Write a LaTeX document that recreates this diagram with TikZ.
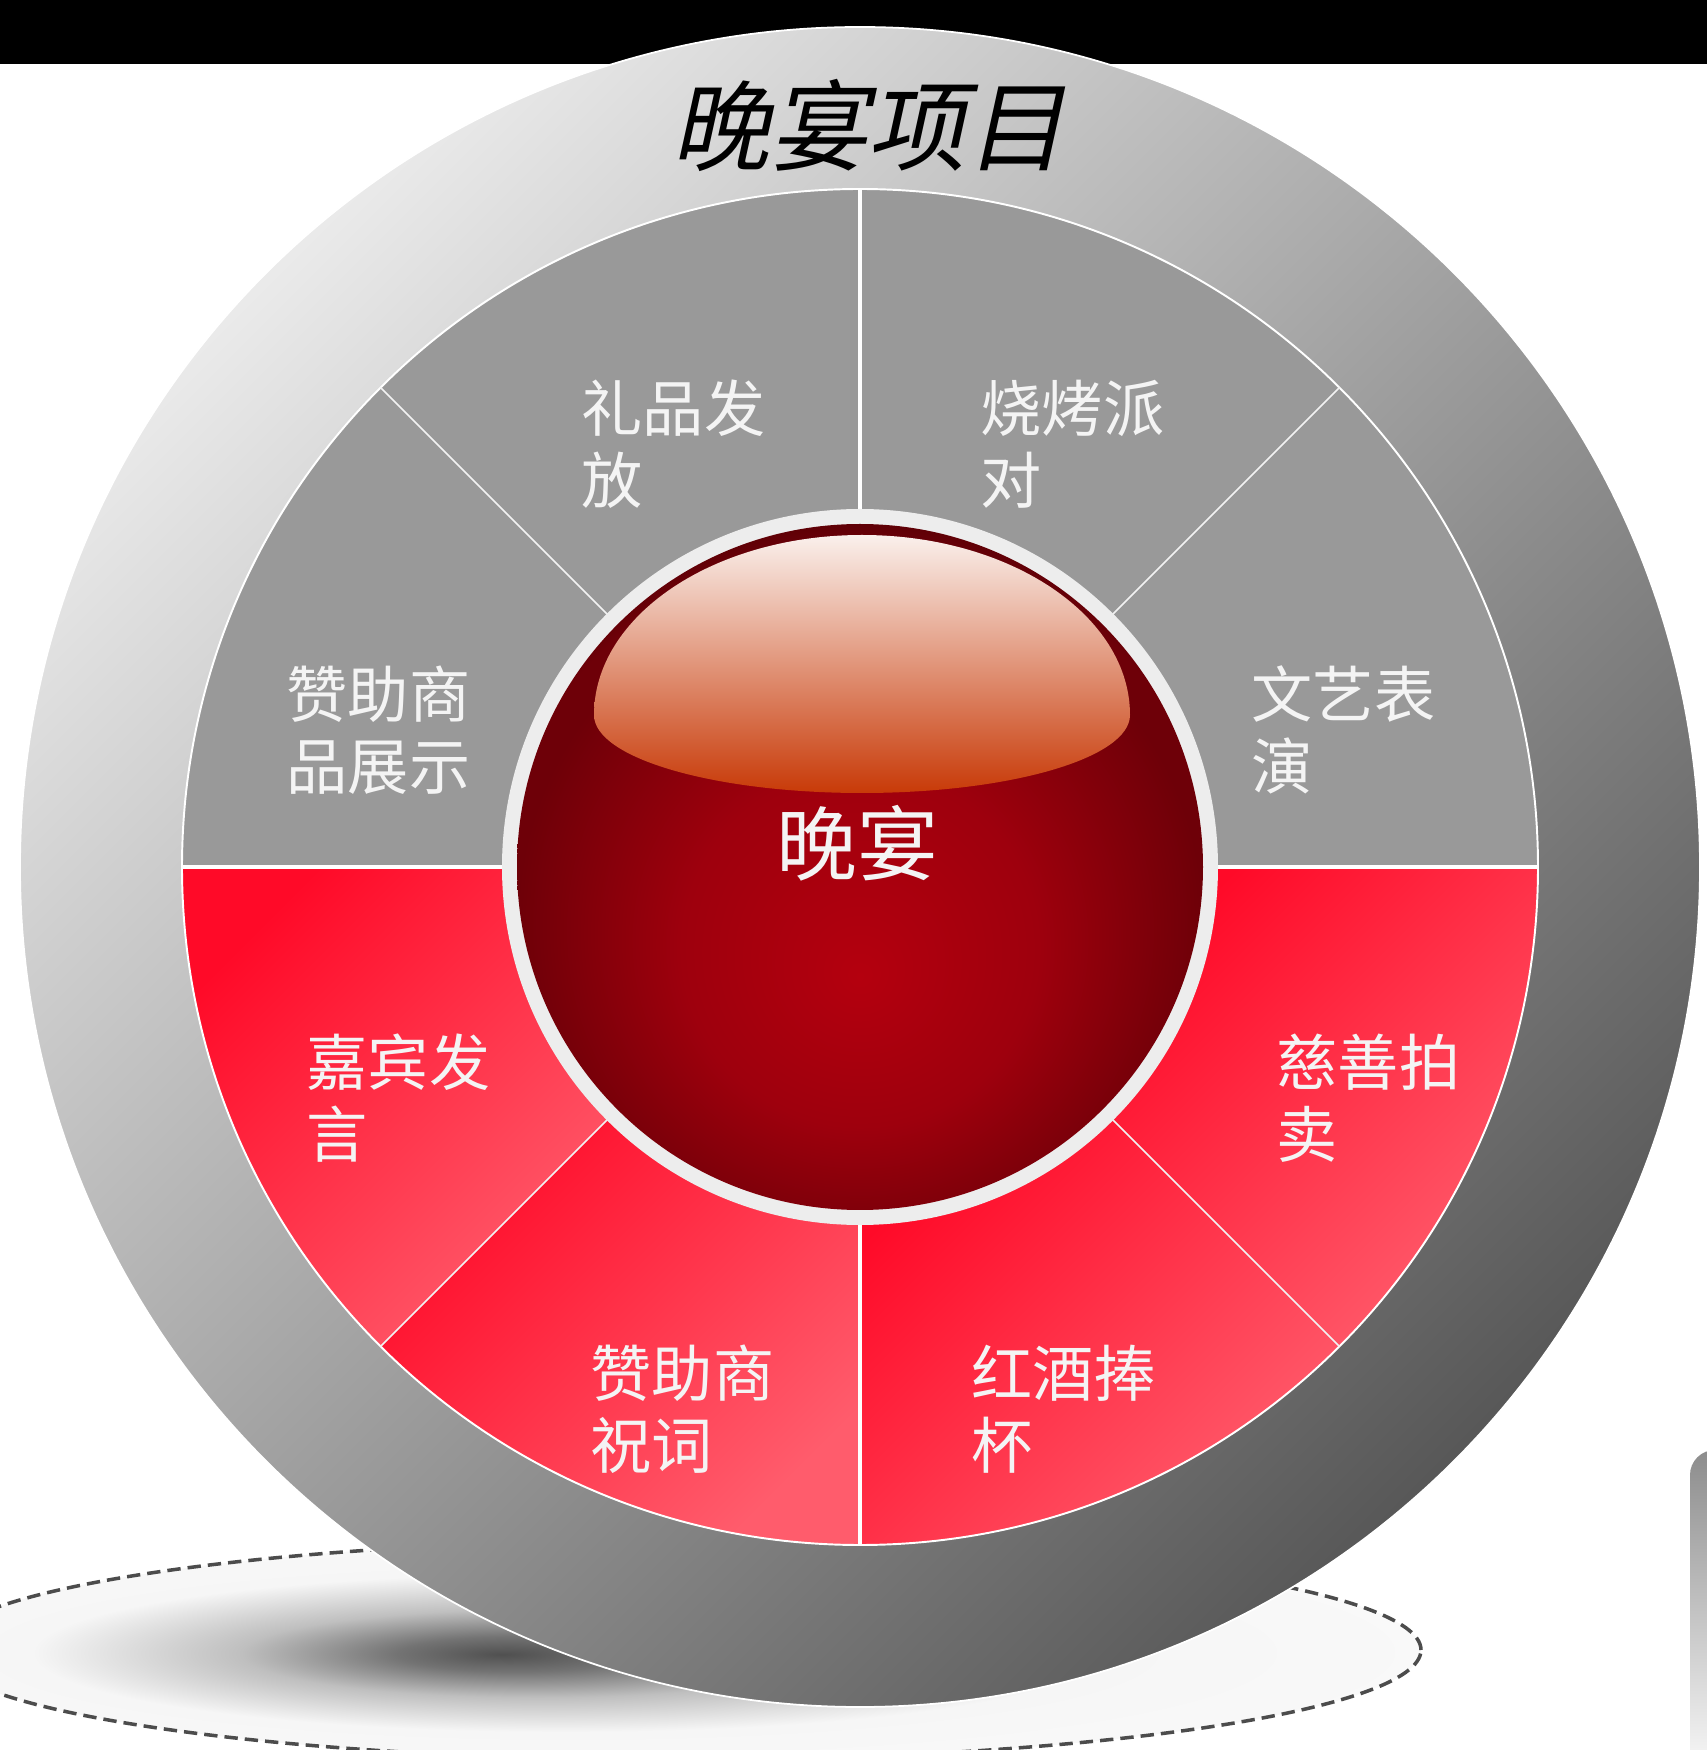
\documentclass[tikz,border=0pt]{standalone}
\usepackage{fontspec}
\setmainfont{Noto Sans CJK SC}
\newfontfamily\titlefont[FakeSlant=0.22]{Noto Sans CJK SC}
\definecolor{ringlight}{HTML}{EAEAEA}
\definecolor{ringdark}{HTML}{585858}
\definecolor{sectgray}{HTML}{999999}
\definecolor{redA}{HTML}{FF0A28}
\definecolor{redB}{HTML}{FF5C6C}
\definecolor{ringwhite}{HTML}{EDEDED}
\definecolor{labelwhite}{HTML}{F4F4F4}
\definecolor{sphin}{HTML}{B4000E}
\definecolor{sphmid}{HTML}{9E000D}
\definecolor{sphout}{HTML}{6E0008}
\definecolor{sphrim}{HTML}{300000}
\definecolor{hlTop}{HTML}{FAF0EC}
\definecolor{hlMid}{HTML}{E38A68}
\definecolor{hlBot}{HTML}{C83A08}
\definecolor{shA}{HTML}{505050}
\definecolor{shB}{HTML}{737373}
\definecolor{shC}{HTML}{BFBFBF}
\definecolor{shD}{HTML}{F6F6F6}
\pgfdeclareradialshading{sphereshade}{\pgfpoint{0bp}{-8bp}}{color(0bp)=(sphin); color(13bp)=(sphmid); color(25bp)=(sphout); color(27bp)=(sphout); color(33bp)=(sphrim); color(50bp)=(sphrim)}
\pgfdeclareradialshading{shadowshade}{\pgfpoint{-6bp}{-1bp}}{color(0bp)=(shA); color(4bp)=(shB); color(10bp)=(shC); color(18bp)=(shD); color(50bp)=(white)}
\begin{document}
\begin{tikzpicture}[x=0.01cm,y=0.01cm,
  lbl/.style={text=labelwhite, font=\fontsize{17.4pt}{20.5pt}\selectfont, align=left, anchor=west, inner sep=0pt},
  ttl/.style={text=black, font=\titlefont\fontsize{28pt}{30pt}\selectfont, inner sep=0pt},
  ctr/.style={text=labelwhite, font=\fontsize{23pt}{26pt}\selectfont, inner sep=0pt},
  shadowedge/.style={draw=black!70, line width=1pt, dash pattern=on 3.8pt off 2pt},
  divthin/.style={draw=white!90!gray, line width=0.45pt},
  divthick/.style={draw=white, line width=0.9pt}]
\useasboundingbox (0,0) rectangle (1707,1750);
\clip (0,0) rectangle (1707,1750);
\fill[white] (0,0) rectangle (1707,1750);
% floor shadow
\shade[shading=shadowshade] (680,100) ellipse [x radius=741, y radius=110];
\draw[shadowedge] (680,100) ellipse [x radius=741, y radius=110];
% partial shape at bottom right
\shade[top color=black!45, bottom color=white, rounded corners=0.25cm] (1690,-40) rectangle (1790,300);
% black band
\fill[black] (0,1686) rectangle (1707,1750);
\begin{scope}[shift={(860,883)}]
  % outer ring
  \shade[top color=ringlight, bottom color=ringdark, shading angle=45] (0,0) circle[radius=840];
  \draw[white, line width=0.5pt] (0,0) circle[radius=840];
  % grey sectors
  \foreach \a [evaluate=\a as \b using \a+45] in {0,45,90,135}
    \fill[sectgray] (\a:678) arc[start angle=\a, end angle=\b, radius=678] -- (\b:340) arc[start angle=\b, end angle=\a, radius=340] -- cycle;
  % red sectors
  \foreach \a [evaluate=\a as \b using \a+45] in {180,225,270,315}
    \shade[top color=redA, bottom color=redB, shading angle=45] (\a:678) arc[start angle=\a, end angle=\b, radius=678] -- (\b:340) arc[start angle=\b, end angle=\a, radius=340] -- cycle;
  \draw[white, line width=0.55pt] (0,0) circle[radius=678];
  % dividers
  \foreach \a in {45,135,225,315}
    \draw[divthin] (\a:350) -- (\a:678);
  \foreach \a in {0,90,180,270}
    \draw[divthick] (\a:350) -- (\a:678);
  % centre ball
  \fill[ringwhite] (0,0) circle[radius=358];
  \shade[shading=sphereshade] (0,0) circle[radius=343];
  \shade[top color=hlTop, middle color=hlMid, bottom color=hlBot] (-266,152) arc[start angle=180, end angle=0, x radius=268, y radius=180] arc[start angle=0, end angle=-180, x radius=268, y radius=78] -- cycle;
  % texts
  \node[ttl] (title) at (8,742) {晚宴项目};
  \node[ctr] (centre) at (-3,24) {晚宴};
  \node[lbl] (gift) at (-279,423) {礼品发\\放};
  \node[lbl] (bbq) at (120,423) {烧烤派\\对};
  \node[lbl] (display) at (-574,137) {赞助商\\品展示};
  \node[lbl] (show) at (391,137) {文艺表\\演};
  \node[lbl] (guest) at (-554,-231) {嘉宾发\\言};
  \node[lbl] (auction) at (416,-231) {慈善拍\\卖};
  \node[lbl] (toast) at (-270,-542) {赞助商\\祝词};
  \node[lbl] (wine) at (111,-542) {红酒捧\\杯};
\end{scope}
\end{tikzpicture}
\end{document}
